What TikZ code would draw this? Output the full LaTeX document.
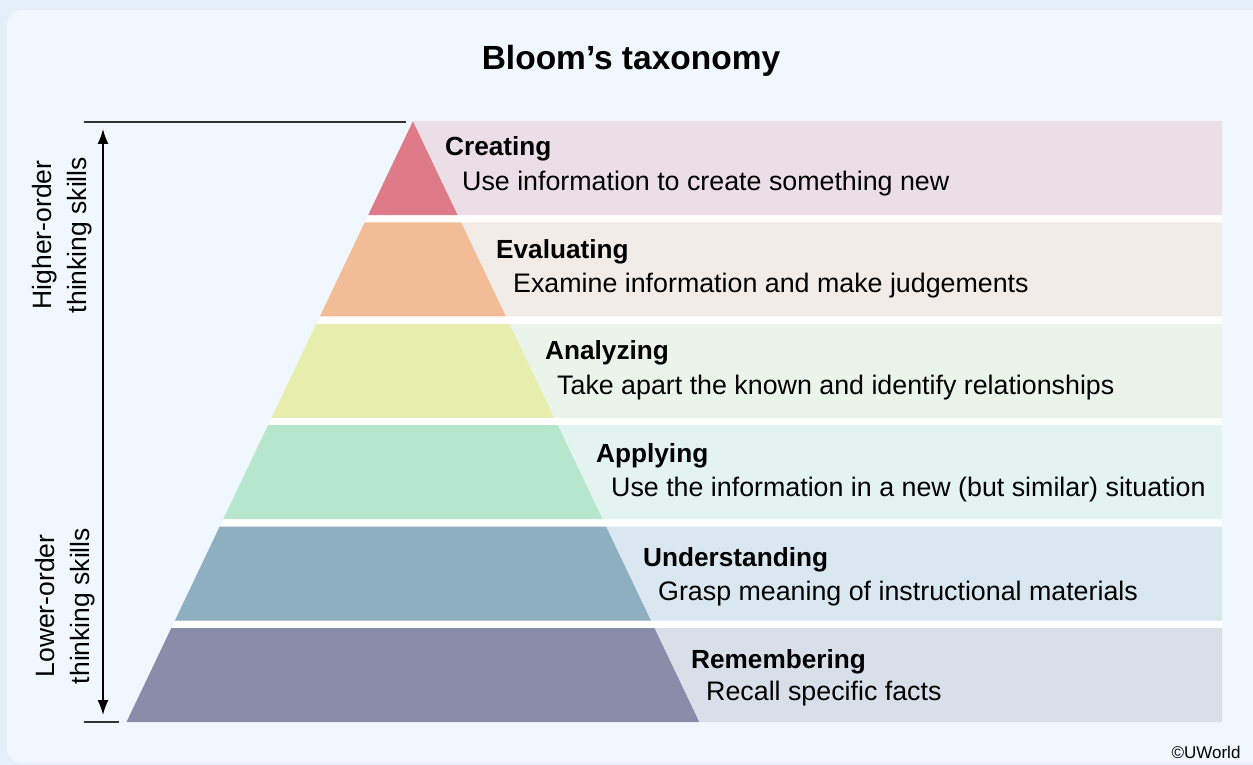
\documentclass[tikz,border=0pt]{standalone}
\usepackage{fontspec}
\setmainfont{Liberation Sans}
\usetikzlibrary{arrows.meta}
\definecolor{outerbg}{HTML}{E3F0FA}
\definecolor{panelbg}{HTML}{F0F7FE}
\definecolor{crD}{HTML}{DF7B88}
\definecolor{crL}{HTML}{EBDEE6}
\definecolor{evD}{HTML}{F2BC96}
\definecolor{evL}{HTML}{F1ECE7}
\definecolor{anD}{HTML}{E5EEAD}
\definecolor{anL}{HTML}{EBF4EA}
\definecolor{apD}{HTML}{B6E6CB}
\definecolor{apL}{HTML}{E2F3F0}
\definecolor{unD}{HTML}{8DAFC0}
\definecolor{unL}{HTML}{D9E7F0}
\definecolor{reD}{HTML}{888EA9}
\definecolor{reL}{HTML}{D8DFE9}
\begin{document}
\begin{tikzpicture}[x=1pt, y=-1pt]
    \tikzset{
      head/.style={anchor=base west, inner sep=0pt, font=\fontsize{26.2}{30}\selectfont\bfseries},
      desc/.style={anchor=base west, inner sep=0pt, font=\fontsize{26.8}{30}\selectfont},
      side/.style={rotate=90, align=center, inner sep=0pt, font=\fontsize{26.5}{35}\selectfont},
      tick/.style={draw=black!80, line width=1.6pt},
      levelarrow/.style={{Latex[length=15pt,width=11pt]}-{Latex[length=15pt,width=11pt]}, line width=1.6pt, shorten <=7pt, shorten >=7pt},
    }
    \useasboundingbox (0,0) rectangle (1253,765);
    \fill[outerbg] (0,0) rectangle (1253,765);
    \fill[panelbg, rounded corners=15pt] (7,10) rectangle (1275,763);
    % white underlay gives the gaps between the levels
    \fill[white] (413,121) -- (1222,121) -- (1222,722) -- (127,722) -- cycle;
    % levels: pyramid part and text box part
    \foreach \i/\dark/\light in {0/crD/crL, 1/evD/evL, 2/anD/anL, 3/apD/apL, 4/unD/unL, 5/reD/reL} {
      \pgfmathsetmacro\yt{121+101.4*\i}
      \pgfmathsetmacro\yb{\yt+94}
      \pgfmathsetmacro\lt{413-0.4767*(\yt-121)}
      \pgfmathsetmacro\rt{413+0.4767*(\yt-121)}
      \pgfmathsetmacro\lb{413-0.4767*(\yb-121)}
      \pgfmathsetmacro\rb{413+0.4767*(\yb-121)}
      \fill[\dark] (\lt,\yt) -- (\rt,\yt) -- (\rb,\yb) -- (\lb,\yb) -- cycle;
      \fill[\light] (\rt,\yt) -- (1222,\yt) -- (1222,\yb) -- (\rb,\yb) -- cycle;
    }
    \node[anchor=base, inner sep=0pt, font=\fontsize{33.5}{38}\selectfont\bfseries] (title) at (631,70) {Bloom’s taxonomy};
    \node[head] (creating) at (445,156) {Creating};
    \node[desc] (creatingtxt) at (462,190) {Use information to create something new};
    \node[head] (evaluating) at (496,258) {Evaluating};
    \node[desc] (evaluatingtxt) at (513,292) {Examine information and make judgements};
    \node[head] (analyzing) at (545,359) {Analyzing};
    \node[desc] (analyzingtxt) at (557,394) {Take apart the known and identify relationships};
    \node[head] (applying) at (596,462) {Applying};
    \node[desc] (applyingtxt) at (611,496) {Use the information in a new (but similar) situation};
    \node[head] (understanding) at (643,566) {Understanding};
    \node[desc] (understandingtxt) at (658,600) {Grasp meaning of instructional materials};
    \node[head] (remembering) at (691,668) {Remembering};
    \node[desc] (rememberingtxt) at (706,700) {Recall specific facts};
    % thinking skills scale
    \coordinate (hitop) at (103,122);
    \coordinate (lobot) at (103,722);
    \coordinate (topleft) at (84,122);
    \coordinate (topright) at (406,122);
    \coordinate (botleft) at (84,722);
    \coordinate (botright) at (119,722);
    \draw[tick] (topleft) -- (topright);
    \draw[tick] (botleft) -- (botright);
    \draw[levelarrow] (hitop) -- (lobot);
    \node[side] (higher) at (62,235) {Higher-order\\thinking skills};
    \node[side] (lower) at (65,606) {Lower-order\\thinking skills};
    \node[inner sep=0pt, font=\fontsize{17}{19}\selectfont] (uworld) at (1206,752) {©UWorld};
\end{tikzpicture}
\end{document}
